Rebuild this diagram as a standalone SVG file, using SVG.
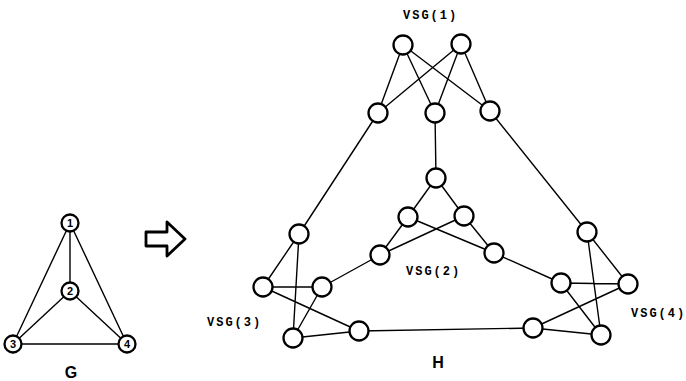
<svg xmlns="http://www.w3.org/2000/svg" width="686" height="381" viewBox="0 0 686 381">
<style>
.e{stroke:#000;stroke-width:1.4;fill:none}
.n{fill:#fff;stroke:#000;stroke-width:2.3}
.lb{font-family:"Liberation Mono",monospace;font-size:12px;font-weight:bold;letter-spacing:2px}
.num{font-family:"Liberation Sans",Arial,sans-serif;font-size:11px;font-weight:bold;text-anchor:middle}
.big{font-family:"Liberation Sans",Arial,sans-serif;font-size:16px;font-weight:bold;text-anchor:middle}
</style>
<rect width="686" height="381" fill="#fff"/>
<g id="connectors">
<path class="e" d="M70 223L70 291M70 223L13 344M70 223L127 344M70 291L13 344M70 291L127 344M13 344L127 344"/>
<path class="e" d="M403 45L378 113M403 45L435 113M403 45L490 111M461 44L378 113M461 44L435 113M461 44L490 111"/>
<path class="e" d="M378 113L299 234M435 113L436 178M490 111L587 232"/>
<path class="e" d="M436 178L408 217M436 178L464 216M408 217L380 255M408 217L494 253M464 216L380 255M464 216L494 253"/>
<path class="e" d="M380 255L322 287M494 253L561 283M359 331L533 328"/>
<path class="e" d="M263 287L299 234M263 287L322 287M263 287L359 331M293 338L299 234M293 338L322 287M293 338L359 331"/>
<path class="e" d="M628 284L587 232M628 284L561 283M628 284L533 328M601 335L587 232M601 335L561 283M601 335L533 328"/>
</g>
<g id="arrow"><polygon points="146,232 167,232 167,222 185,239 167,256 167,246 146,246" fill="#fff" stroke="#000" stroke-width="2.8" stroke-linejoin="round"/></g>
<g id="g1"><circle class="n" cx="70" cy="223" r="8.5"/><text class="num" x="70" y="227">1</text></g>
<g id="g2"><circle class="n" cx="70" cy="291" r="8.5"/><text class="num" x="70" y="295">2</text></g>
<g id="g3"><circle class="n" cx="13" cy="344" r="8.5"/><text class="num" x="13" y="348">3</text></g>
<g id="g4"><circle class="n" cx="127" cy="344" r="8.5"/><text class="num" x="127" y="348">4</text></g>
<g id="hA"><circle class="n" cx="403" cy="45" r="9.5"/></g>
<g id="hB"><circle class="n" cx="461" cy="44" r="9.5"/></g>
<g id="hC"><circle class="n" cx="378" cy="113" r="9.5"/></g>
<g id="hD"><circle class="n" cx="435" cy="113" r="9.5"/></g>
<g id="hE"><circle class="n" cx="490" cy="111" r="9.5"/></g>
<g id="hF"><circle class="n" cx="436" cy="178" r="9.5"/></g>
<g id="hG"><circle class="n" cx="408" cy="217" r="9.5"/></g>
<g id="hH"><circle class="n" cx="464" cy="216" r="9.5"/></g>
<g id="hI"><circle class="n" cx="380" cy="255" r="9.5"/></g>
<g id="hJ"><circle class="n" cx="494" cy="253" r="9.5"/></g>
<g id="hK"><circle class="n" cx="299" cy="234" r="9.5"/></g>
<g id="hL"><circle class="n" cx="263" cy="287" r="9.5"/></g>
<g id="hM"><circle class="n" cx="322" cy="287" r="9.5"/></g>
<g id="hN"><circle class="n" cx="293" cy="338" r="9.5"/></g>
<g id="hO"><circle class="n" cx="359" cy="331" r="9.5"/></g>
<g id="hP"><circle class="n" cx="587" cy="232" r="9.5"/></g>
<g id="hQ"><circle class="n" cx="561" cy="283" r="9.5"/></g>
<g id="hR"><circle class="n" cx="628" cy="284" r="9.5"/></g>
<g id="hS"><circle class="n" cx="533" cy="328" r="9.5"/></g>
<g id="hT"><circle class="n" cx="601" cy="335" r="9.5"/></g>
<g id="labels">
<text class="lb" x="403" y="19">VSG(1)</text>
<text class="lb" x="406" y="275">VSG(2)</text>
<text class="lb" x="207" y="326">VSG(3)</text>
<text class="lb" x="631" y="317">VSG(4)</text>
<text class="big" x="71" y="378">G</text>
<text class="big" x="438" y="368">H</text>
</g>
</svg>
